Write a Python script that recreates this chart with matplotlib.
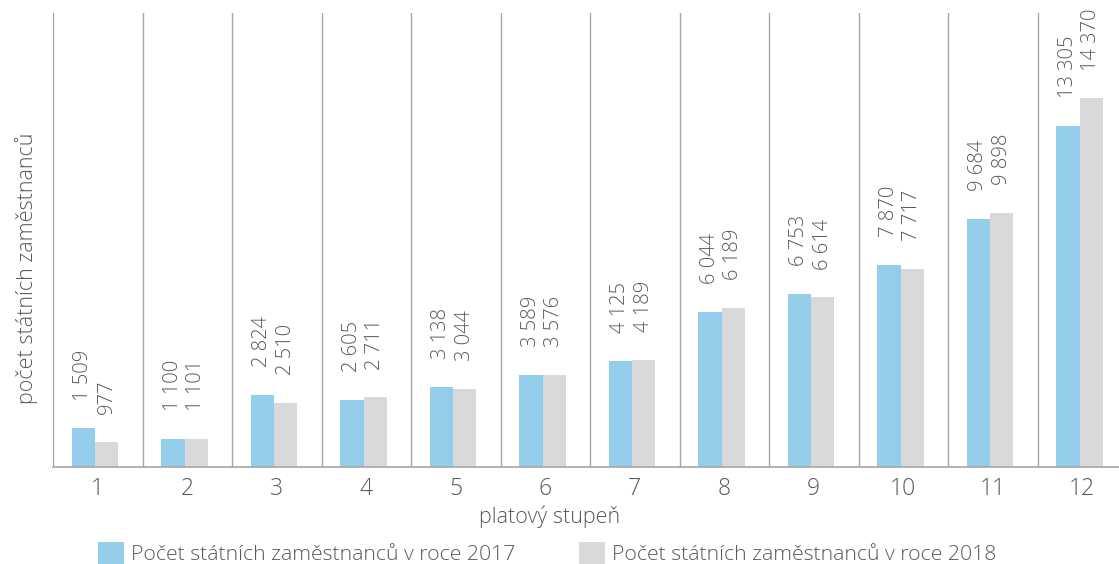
import matplotlib
matplotlib.use("Agg")
import matplotlib.pyplot as plt
from matplotlib import font_manager as fm
import numpy as np

categories = ["1", "2", "3", "4", "5", "6", "7", "8", "9", "10", "11", "12"]
values_2017 = [1509, 1100, 2824, 2605, 3138, 3589, 4125, 6044, 6753, 7870, 9684, 13305]
values_2018 = [977, 1101, 2510, 2711, 3044, 3576, 4189, 6189, 6614, 7717, 9898, 14370]
series_names = ["Počet státních zaměstnanců v roce 2017", "Počet státních zaměstnanců v roce 2018"]
xlabel = "platový stupeň"
ylabel = "počet státních zaměstnanců"

def wnum(w):
    if isinstance(w, (int, float)):
        return w
    return {"ultralight": 200, "light": 300, "normal": 400, "regular": 400,
            "book": 400, "medium": 500}.get(str(w).lower(), 400)

fam = "Open Sans"
for cand in ["Open Sans", "Lato", "Roboto", "Noto Sans", "Inter"]:
    if any(f.name == cand and wnum(f.weight) == 300 for f in fm.fontManager.ttflist):
        fam = cand
        break
plt.rcParams['font.family'] = [fam, 'DejaVu Sans']
plt.rcParams['font.weight'] = 300

TXT = "#595959"
BLUE = "#93CDEA"
GREY = "#D9D9DB"
LINE = "#A6A6A6"

fig = plt.figure(figsize=(11.19, 5.64), dpi=100)
ax = fig.add_axes([53/1119, (564-467)/564, (1127-53)/1119, (467-13)/564])

x = np.arange(len(categories))
w = 0.26
shift = -0.03
b1 = ax.bar(x + shift - w/2, values_2017, w, color=BLUE, label=series_names[0])
b2 = ax.bar(x + shift + w/2, values_2018, w, color=GREY, label=series_names[1])

def fmt(v):
    return f"{v:,}".replace(",", " ")

for bars, vals in ((b1, values_2017), (b2, values_2018)):
    for rect, v in zip(bars, vals):
        ax.annotate(fmt(v), (rect.get_x() + rect.get_width()/2, v),
                    xytext=(0, 20), textcoords="offset points",
                    rotation=90, ha="center", va="bottom",
                    fontsize=14.5, color=TXT, fontweight=300)

ax.set_xlim(-0.5, len(categories) - 0.5)
ax.set_ylim(0, 17700)
ax.set_yticks([])
for b in np.arange(-0.5, len(categories) - 0.5, 1.0):
    ax.axvline(b, color=LINE, lw=1.0, zorder=0)
for s in ["top", "right", "left"]:
    ax.spines[s].set_visible(False)
ax.spines["bottom"].set_color(LINE)
ax.spines["bottom"].set_linewidth(1.2)

ax.set_xticks(x)
ax.set_xticklabels(categories, fontsize=16.5, color=TXT, fontweight=300)
ax.tick_params(axis="x", length=0, pad=7)
ax.set_xlabel(xlabel, fontsize=15.5, color=TXT, fontweight=300)
ax.xaxis.set_label_coords((550 - 53) / 1074, -0.085)
ax.set_ylabel(ylabel, fontsize=15.5, color=TXT, fontweight=300)
ax.yaxis.set_label_coords((38 - 53) / 1074, (467 - 268) / 454)

leg = fig.legend(handles=[b1, b2], labels=series_names, loc="center",
                 bbox_to_anchor=(0.489, 0.018), ncol=2, frameon=False,
                 prop={"size": 15.3, "weight": 300},
                 handlelength=1.2, handleheight=1.2,
                 columnspacing=3.0, handletextpad=0.35)
for t in leg.get_texts():
    t.set_color(TXT)

fig.savefig("out.png", dpi=100)
